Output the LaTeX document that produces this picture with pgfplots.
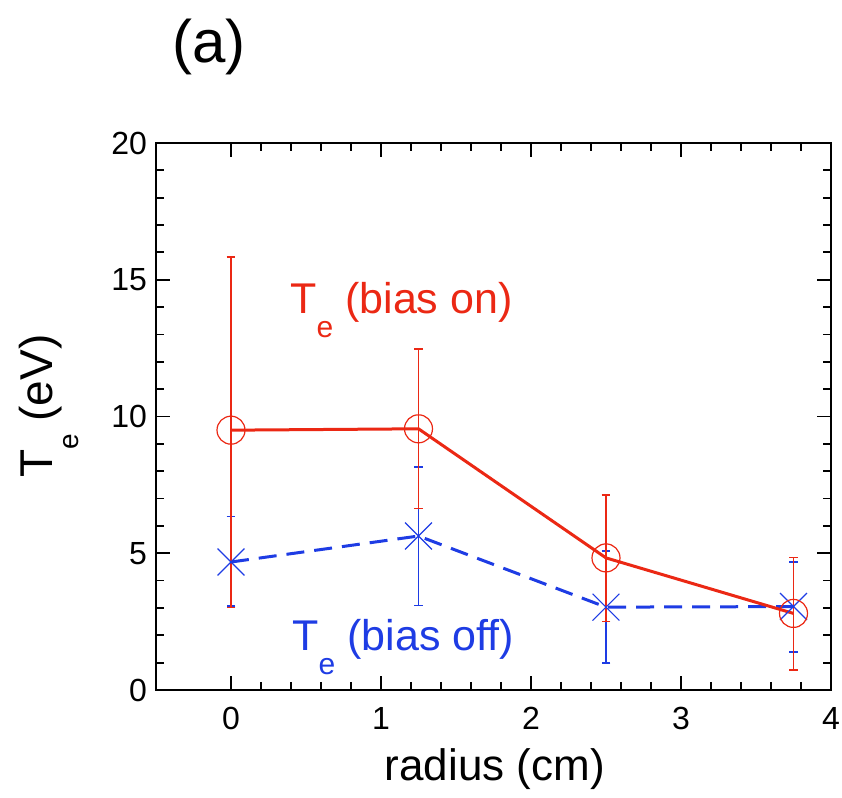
\documentclass[border=0pt]{standalone}
\usepackage{fontspec}
\setmainfont{Liberation Sans}
\usepackage{pgfplots}
\pgfplotsset{compat=1.18}
\definecolor{tered}{RGB}{235,40,20}
\definecolor{teblue}{RGB}{30,60,228}
\begin{document}
\begin{tikzpicture}
\begin{axis}[
    scale only axis, width=337.5pt, height=273.5pt,
    xmin=-0.5, xmax=4, ymin=0, ymax=20,
    xtick={0,1,2,3,4}, ytick={0,5,10,15,20},
    minor x tick num=4, minor y tick num=4,
    tick align=inside,
    major tick length=7pt, minor tick length=4pt,
    axis line style={line width=1pt},
    every tick/.style={black, line width=0.9pt},
    tick label style={font=\fontsize{16}{16}\selectfont},
    /pgf/number format/assume math mode=true,
    xticklabel style={yshift=-5pt},
    yticklabel style={xshift=-1pt},
    clip=false,
  ]
  \coordinate (bl) at (rel axis cs:0,0);
  \coordinate (tr) at (rel axis cs:1,1);
  % bias off
  \addplot[teblue, line width=1.5pt, dash pattern=on 9pt off 5pt,
    mark=x, mark size=9.5pt, mark options={solid, line width=0.6pt},
    error bars/.cd, y dir=both, y explicit,
    error bar style={solid, line width=0.6pt},
    error mark options={rotate=90, mark size=2.2pt, line width=0.6pt}]
    coordinates {
      (0,4.68) += (0,1.65) -= (0,1.61)
      (1.25,5.63) += (0,2.52) -= (0,2.53)
      (2.5,3.03) += (0,2.05) -= (0,2.04)
      (3.75,3.05) += (0,1.63) -= (0,1.66)
    };
  % bias on
  \addplot[tered, line width=1.5pt,
    mark=o, mark size=7pt, mark options={solid, line width=0.6pt},
    error bars/.cd, y dir=both, y explicit,
    error bar style={solid, line width=0.6pt},
    error mark options={rotate=90, mark size=2.2pt, line width=0.6pt}]
    coordinates {
      (0,9.5) += (0,6.33) -= (0,6.47)
      (1.25,9.55) += (0,2.92) -= (0,2.9)
      (2.5,4.83) += (0,2.30) -= (0,2.34)
      (3.75,2.8) += (0,2.03) -= (0,2.07)
    };
  \node[anchor=base west, inner sep=0, text=tered, font=\fontsize{21.5}{21.5}\selectfont]
    at (axis cs:0.393,13.78) {T\raisebox{-12pt}{\fontsize{15}{15}\selectfont e} (bias on)};
  \node[anchor=base west, inner sep=0, text=teblue, font=\fontsize{21.5}{21.5}\selectfont]
    at (axis cs:0.407,1.46) {T\raisebox{-12pt}{\fontsize{15}{15}\selectfont e} (bias off)};
  \node[anchor=base, inner sep=0, font=\fontsize{22}{22}\selectfont]
    at (axis description cs:0.502,-0.166) {radius (cm)};
  \node[anchor=base, inner sep=0, rotate=90, font=\fontsize{23}{23}\selectfont]
    at (axis description cs:-0.154,0.519) {T\raisebox{-13pt}{\fontsize{14}{14}\selectfont e} (eV)};
  \node[anchor=base west, inner sep=0, font=\fontsize{30}{30}\selectfont]
    at (axis description cs:0.0237,1.148) {(a)};
\end{axis}
\pgfresetboundingbox
\path[use as bounding box] ([xshift=-78pt,yshift=-54pt]bl) rectangle ([xshift=5.5pt,yshift=71.5pt]tr);
\end{tikzpicture}
\end{document}
